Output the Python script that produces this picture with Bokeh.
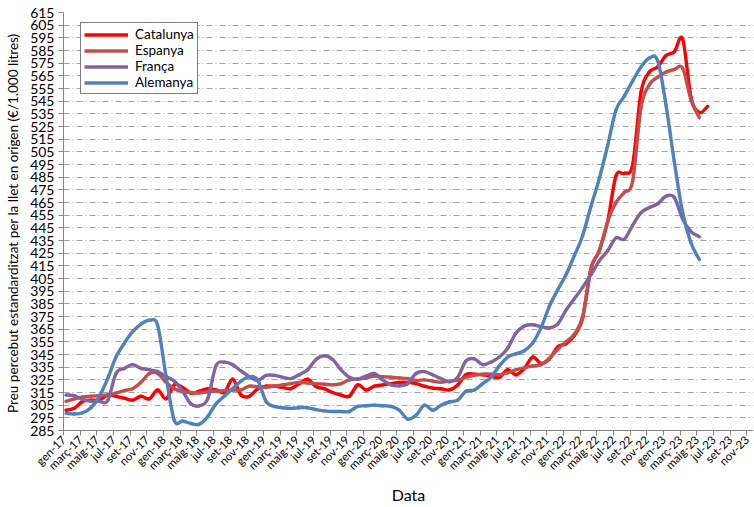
from math import pi
from bokeh.plotting import figure
from bokeh.models import FixedTicker, Legend, LegendItem
from bokeh.embed import file_html
from bokeh.resources import INLINE

# ---- data (monthly, index 0 = gen-17) ----
month_names = ["gen", "març", "maig", "jul", "set", "nov"]   # labelled months (every 2nd)
years = ["17", "18", "19", "20", "21", "22", "23"]
tick_labels = [f"{m}-{y}" for y in years for m in month_names]   # gen-17 ... nov-23

catalunya = [301, 302.5, 308, 309, 309, 313, 312, 310.5, 309, 312, 310, 317, 310, 321, 319, 314.5,
             316, 318, 317, 315, 325.5, 313, 312, 318, 320, 320, 319, 318, 322, 325.5, 319.7, 318,
             315, 313, 312, 321, 317, 320, 321, 322, 323, 323, 322, 320, 318.5, 318, 317, 321,
             329, 329.5, 329, 328, 327, 333, 329, 334, 343, 338, 341.5, 351, 353.5, 360, 374, 413,
             427, 450, 486, 488, 495, 552, 568, 572, 581, 584, 594, 548, 536, 541]
espanya = [308, 310, 311.5, 312, 312.5, 313, 314.5, 316.5, 318, 323, 330, 330, 323, 318, 315.5, 315,
           314.5, 315.5, 316, 316.5, 317, 317, 320, 319.5, 319, 320, 321, 322, 323, 322.5, 322, 321.5,
           321, 322, 325, 325.5, 326.5, 328, 327.5, 327, 326.5, 326, 324.5, 325, 324, 323, 324, 324.5,
           327, 328.5, 329.5, 329.5, 329, 330.5, 333, 334.5, 336, 337, 342, 349, 355, 361, 375, 413,
           427, 450, 465, 473, 482, 540, 558, 564, 568, 570, 571, 546, 532]
franca = [313, 312.5, 309.5, 308, 308, 308.5, 330, 334, 337, 334, 333, 331.5, 327.5, 324, 316, 306,
          304.5, 310, 336, 339, 337, 332, 327.5, 324.5, 328.5, 328.5, 327, 326, 329, 333, 341, 344,
          341, 333, 327, 325.5, 328, 330, 325, 321, 320.3, 322, 330, 331.5, 329, 326, 323.5, 327,
          340, 341.5, 337, 339, 343, 350, 362, 367.5, 368.5, 367, 366, 369, 380, 389, 398, 408,
          419, 427, 437, 436, 447, 457, 461, 464, 470, 469, 452, 442, 438]
alemanya = [298.5, 298, 299, 303, 312, 326, 343, 354, 363, 369, 372, 368, 328, 293, 292.5, 290.5,
            290, 296, 306, 312, 318, 324, 327.5, 325, 308, 304, 303, 302.5, 303, 303, 301.5, 300.5,
            300, 300, 300, 304, 304.5, 305, 304.5, 304, 301, 294, 297, 305, 301, 305, 307.5, 309,
            316, 317, 322, 327, 336, 343, 345.5, 348, 354, 366, 383, 396, 408, 423, 439, 462,
            484, 510, 538, 549, 561, 572, 579, 577, 542, 497, 457, 433, 420]

series = [("Catalunya", catalunya, "#FF0000"),
          ("Espanya", espanya, "#C0504D"),
          ("França", franca, "#8064A2"),
          ("Alemanya", alemanya, "#4F81BD")]

y_ticks = list(range(285, 616, 10))

FONT = "Lato"
LW = 3.4
NAN = float("nan")


def smooth_segments(xs, ys):
    """Catmull-Rom style bezier segments through the data points (like a smoothed line)."""
    n = len(xs)
    seg = dict(x0=[], y0=[], x1=[], y1=[], cx0=[], cy0=[], cx1=[], cy1=[])
    for i in range(n - 1):
        i0 = max(i - 1, 0)
        i3 = min(i + 2, n - 1)
        seg["x0"].append(xs[i]); seg["y0"].append(ys[i])
        seg["x1"].append(xs[i + 1]); seg["y1"].append(ys[i + 1])
        seg["cx0"].append(xs[i] + (xs[i + 1] - xs[i0]) / 6.0)
        seg["cy0"].append(ys[i] + (ys[i + 1] - ys[i0]) / 6.0)
        seg["cx1"].append(xs[i + 1] - (xs[i3] - xs[i]) / 6.0)
        seg["cy1"].append(ys[i + 1] - (ys[i3] - ys[i]) / 6.0)
    return seg


p = figure(frame_width=690, frame_height=418, x_range=(0, 82.8), y_range=(285, 615),
           output_backend="svg", toolbar_location=None,
           min_border_left=63, min_border_right=0, min_border_top=12, min_border_bottom=10)
p.outline_line_color = None
p.background_fill_color = "white"
p.border_fill_color = "white"

items = []
for name, vals, col in series:
    xs = [i + 0.3 for i in range(len(vals))]
    s = smooth_segments(xs, vals)
    p.bezier(x0=s["x0"], y0=s["y0"], x1=s["x1"], y1=s["y1"],
             cx0=s["cx0"], cy0=s["cy0"], cx1=s["cx1"], cy1=s["cy1"],
             line_color=col, line_width=LW, line_cap="round")
    # legend swatch only (no visible data)
    leg = p.line([NAN], [NAN], line_color=col, line_width=LW)
    items.append(LegendItem(label=name, renderers=[leg]))

# axes
xt = list(range(0, 2 * len(tick_labels), 2))
p.xaxis.ticker = FixedTicker(ticks=xt)
p.xaxis.major_label_overrides = {t: lab for t, lab in zip(xt, tick_labels)}
p.xaxis.major_label_orientation = pi / 4
p.yaxis.ticker = FixedTicker(ticks=y_ticks)

for ax in (p.xaxis, p.yaxis):
    ax.axis_line_color = "#868686"
    ax.major_tick_line_color = "#868686"
    ax.major_tick_out = 5
    ax.major_tick_in = 0
    ax.minor_tick_line_color = None
    ax.major_label_text_font = FONT
    ax.major_label_text_color = "black"
    ax.axis_label_text_font = FONT
    ax.axis_label_text_font_style = "normal"
    ax.axis_label_text_color = "black"

p.xaxis.major_label_text_font_size = "11.5px"
p.yaxis.major_label_text_font_size = "14px"
p.yaxis.major_label_standoff = 4
p.xaxis.major_label_standoff = 2
p.xaxis.axis_label = "Data"
p.xaxis.axis_label_text_font_size = "16px"
p.xaxis.axis_label_standoff = 6
p.yaxis.axis_label = "Preu percebut estandarditzat  per la llet en origen (€/1.000 litres)"
p.yaxis.axis_label_text_font_size = "13.5px"
p.yaxis.axis_label_standoff = 6

p.xgrid.visible = False
p.ygrid.ticker = FixedTicker(ticks=y_ticks)
p.ygrid.grid_line_color = "#a0a0a0"
p.ygrid.grid_line_dash = "6 3 1 3"
p.ygrid.grid_line_width = 1

legend = Legend(items=items, location=(17, 336), orientation="vertical")
legend.border_line_color = "black"
legend.border_line_width = 1
legend.background_fill_alpha = 1
legend.padding = 3
legend.spacing = 0
legend.margin = 0
legend.glyph_width = 44
legend.glyph_height = 15
legend.label_height = 15
legend.label_standoff = 7
legend.label_text_font = FONT
legend.label_text_font_size = "13.5px"
legend.label_text_color = "black"
p.add_layout(legend, "center")

open("out.html", "w").write(file_html(p, INLINE))
